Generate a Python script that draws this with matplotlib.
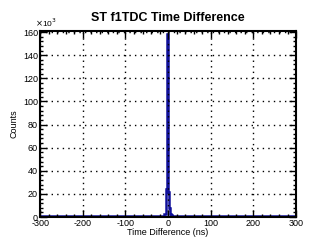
import numpy as np
import matplotlib
matplotlib.use('Agg')
import matplotlib.pyplot as plt
from matplotlib.ticker import MultipleLocator, FuncFormatter

plt.rcParams['font.family'] = ['Liberation Sans', 'DejaVu Sans']
plt.rcParams['axes.unicode_minus'] = False

# histogram of time differences (variable-width bins, ns) and counts
bin_edges = [-300, -10, -6, -4, -2, 0, 2, 4, 6, 10, 30, 300]
counts = [600, 2500, 9000, 24000, 158000, 22000, 8000, 2500, 1500, 900, 500]

fig = plt.figure(figsize=(3.11, 2.42), dpi=100)
ax = fig.add_axes([0.129, 0.103, 0.823, 0.769])

ax.stairs(np.array(counts) / 1000.0, bin_edges, color='#10109a', linewidth=1.8)

ax.set_xlim(-300, 300)
ax.set_ylim(0, 161)
ax.xaxis.set_major_locator(MultipleLocator(100))
ax.xaxis.set_minor_locator(MultipleLocator(20))
ax.yaxis.set_major_locator(MultipleLocator(20))
ax.yaxis.set_minor_locator(MultipleLocator(4))
ax.yaxis.set_major_formatter(FuncFormatter(lambda v, p: '%d' % v))

ax.tick_params(which='both', direction='in', top=True, right=True,
               labelsize=6.5, pad=1.5, width=1)
ax.tick_params(which='major', length=5)
ax.tick_params(which='minor', length=2.5)
ax.grid(which='major', color='black', linestyle=(0, (1, 3)), linewidth=1)
for s in ax.spines.values():
    s.set_linewidth(1.5)

ax.set_xlabel('Time Difference (ns)', fontsize=6.5, labelpad=0)
ax.set_ylabel('Counts', fontsize=6.5, labelpad=3)
ax.set_title('ST f1TDC Time Difference', fontsize=9, fontweight='bold', pad=7)
ax.text(-0.02, 1.01, r'$\times$10$^{3}$', transform=ax.transAxes, fontsize=6,
        va='bottom', ha='left')

fig.savefig('out.png', dpi=100)
